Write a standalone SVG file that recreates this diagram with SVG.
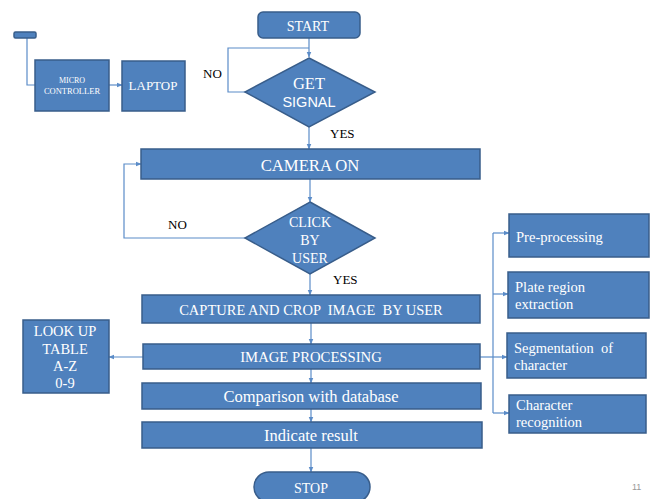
<svg xmlns="http://www.w3.org/2000/svg" width="653" height="499" viewBox="0 0 653 499">
<defs>
<style>
.box{fill:#4f81bd;stroke:#385d8a;stroke-width:1.5}
.t{fill:#fff;font-family:"Liberation Serif",serif;text-anchor:middle}
.tl{fill:#fff;font-family:"Liberation Serif",serif;text-anchor:start}
.s{fill:#fff;font-family:"Liberation Sans",sans-serif;text-anchor:middle}
.lbl{fill:#000;font-family:"Liberation Serif",serif;font-size:13px}
.c{fill:none;stroke:#5b8cc8;stroke-width:1.2}
</style>
<marker id="a" viewBox="0 0 10 10" refX="9" refY="5" markerWidth="5" markerHeight="5" orient="auto">
<path d="M0,1 L10,5 L0,9 z" fill="#5b8cc8"/>
</marker>
</defs>
<rect width="653" height="499" fill="#fff"/>
<g id="connectors">
<path class="c" d="M27,38 V85 H35"/>
<path class="c" d="M109,85 H122" marker-end="url(#a)"/>
<path class="c" d="M309,38 V57" marker-end="url(#a)"/>
<path class="c" d="M245,92 H228 V48 H309"/>
<path class="c" d="M309,127 V149" marker-end="url(#a)"/>
<path class="c" d="M310,179 V202" marker-end="url(#a)"/>
<path class="c" d="M245,238 H124 V164 H141" marker-end="url(#a)"/>
<path class="c" d="M310,274 V295" marker-end="url(#a)"/>
<path class="c" d="M311,323 V344" marker-end="url(#a)"/>
<path class="c" d="M311,369 V383" marker-end="url(#a)"/>
<path class="c" d="M311,409 V422" marker-end="url(#a)"/>
<path class="c" d="M311,448 V472" marker-end="url(#a)"/>
<path class="c" d="M143,357 H109" marker-end="url(#a)"/>
<path class="c" d="M480,357 H507" marker-end="url(#a)"/>
<path class="c" d="M493,233 V413"/>
<path class="c" d="M493,233 H509" marker-end="url(#a)"/>
<path class="c" d="M493,294 H508" marker-end="url(#a)"/>
<path class="c" d="M493,413 H509" marker-end="url(#a)"/>
</g>
<g id="sensor"><rect class="box" x="14" y="32" width="22" height="6" rx="1.5"/></g>
<g id="micro"><rect class="box" x="35" y="60" width="74" height="51"/>
<text class="t" x="72" y="83" font-size="8">MICRO</text>
<text class="t" x="72" y="93.5" font-size="8.5">CONTROLLER</text></g>
<g id="laptop"><rect class="box" x="122" y="61" width="63" height="50"/>
<text class="t" x="153" y="90" font-size="13">LAPTOP</text></g>
<g id="start"><rect class="box" x="258" y="12" width="102" height="26" rx="5"/>
<text class="t" x="308" y="31" font-size="14">START</text></g>
<g id="getsignal"><polygon class="box" points="309,58 375,92 309,127 245,92"/>
<text class="t" x="309" y="89" font-size="16.5">GET</text>
<text class="s" x="309" y="107" font-size="14.5">SIGNAL</text></g>
<text class="lbl" x="203" y="78">NO</text>
<text class="lbl" x="330" y="138">YES</text>
<g id="camera"><rect class="box" x="141" y="149" width="339" height="30"/>
<text class="t" x="310" y="171" font-size="16.7">CAMERA ON</text></g>
<g id="click"><polygon class="box" points="310,202 375,238 310,274 245,238"/>
<text class="t" x="310" y="227" font-size="14">CLICK</text>
<text class="t" x="310" y="245" font-size="14">BY</text>
<text class="t" x="310" y="263" font-size="14">USER</text></g>
<text class="lbl" x="168" y="229">NO</text>
<text class="lbl" x="333" y="284">YES</text>
<g id="capture"><rect class="box" x="142" y="295" width="338" height="28"/>
<text class="t" x="311" y="315" font-size="14.5" xml:space="preserve">CAPTURE AND CROP  IMAGE  BY USER</text></g>
<g id="imgproc"><rect class="box" x="143" y="344" width="337" height="25"/>
<text class="t" x="311" y="362" font-size="14.7">IMAGE PROCESSING</text></g>
<g id="compare"><rect class="box" x="142" y="383" width="339" height="26"/>
<text class="t" x="311" y="402" font-size="16.5">Comparison with database</text></g>
<g id="indicate"><rect class="box" x="142" y="422" width="340" height="26"/>
<text class="t" x="311" y="441" font-size="16.5">Indicate result</text></g>
<g id="stop"><rect class="box" x="254" y="472" width="116" height="30" rx="15"/>
<text class="t" x="311" y="493" font-size="14">STOP</text></g>
<g id="lookup"><rect class="box" x="23" y="320" width="86" height="73"/>
<text class="t" x="65" y="336" font-size="14.5">LOOK UP</text>
<text class="t" x="65" y="354" font-size="14.5">TABLE</text>
<text class="t" x="65" y="371" font-size="14.5">A-Z</text>
<text class="t" x="65" y="388" font-size="14.5">0-9</text></g>
<g id="preproc"><rect class="box" x="509" y="214" width="140" height="43"/>
<text class="tl" x="516" y="242" font-size="14.6">Pre-processing</text></g>
<g id="plate"><rect class="box" x="508" y="272" width="141" height="46"/>
<text class="tl" x="515" y="292" font-size="14.6">Plate region</text>
<text class="tl" x="515" y="309" font-size="14.6">extraction</text></g>
<g id="segment"><rect class="box" x="507" y="333" width="139" height="45"/>
<text class="tl" x="514" y="353" font-size="14.5" xml:space="preserve">Segmentation  of</text>
<text class="tl" x="514" y="370" font-size="14.5">character</text></g>
<g id="charrec"><rect class="box" x="509" y="395" width="137" height="38"/>
<text class="tl" x="516" y="410" font-size="14.5">Character</text>
<text class="tl" x="516" y="427" font-size="14.5">recognition</text></g>
<text x="632" y="490" font-family="Liberation Sans,sans-serif" font-size="9" fill="#999">11</text>
</svg>
